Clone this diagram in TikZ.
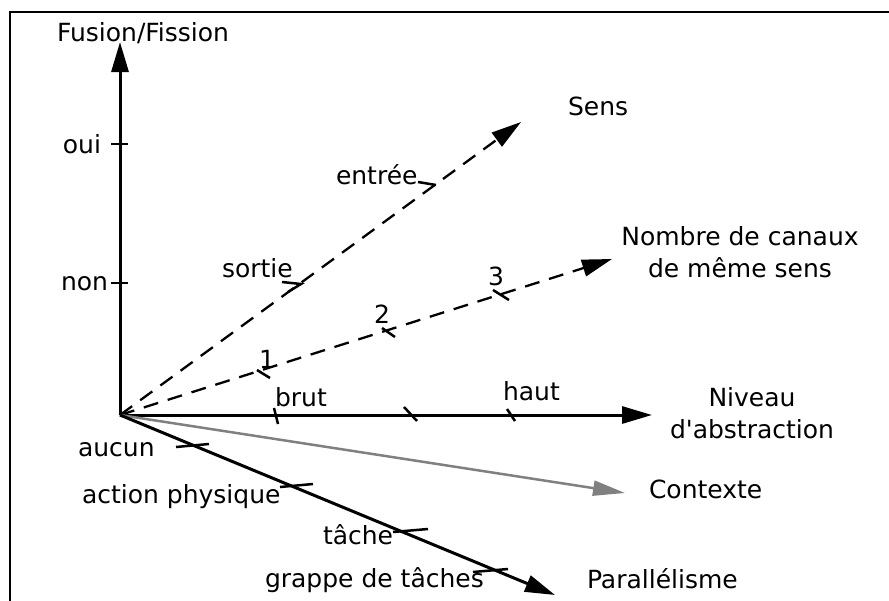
\documentclass[tikz,border=0pt]{standalone}
\usepackage{fontspec}
\newfontfamily\diafont{DejaVu Sans}
\usetikzlibrary{arrows.meta}
\begin{document}
\begin{tikzpicture}[x=1pt,y=-1pt,
  lbl/.style={font=\diafont\fontsize{25}{32}\selectfont, inner sep=0pt, outer sep=0pt},
  axisline/.style={line width=3pt, -{Triangle[length=30pt,width=17pt]}},
  dashaxis/.style={line width=2.3pt, dash pattern=on 15pt off 10pt, -{Triangle[length=30pt,width=17pt]}},
  grayaxis/.style={line width=2.5pt, draw={rgb,255:red,128;green,128;blue,128}, -{Triangle[length=32pt,width=15pt]}},
  tickmark/.style={line width=2.5pt},
  frameline/.style={line width=2.5pt}]
\useasboundingbox (0,0) rectangle (889,600);
% frame
\draw[frameline] (10,605) -- (10,12) -- (895,12);
% origin and axis ends
\coordinate (O) at (120,415);
\coordinate (fusTip) at (120,42);
\coordinate (absTip) at (652,415);
\coordinate (sensTip) at (521,122);
\coordinate (nbTip) at (612,259);
\coordinate (ctxTip) at (625,493);
\coordinate (parTip) at (555,595);
% axes
\draw[axisline] (O) -- (fusTip);
\draw[axisline] (O) -- (absTip);
\draw[dashaxis] (O) -- (sensTip);
\draw[dashaxis] (O) -- (nbTip);
\draw[grayaxis] (O) -- (ctxTip);
\draw[axisline] (O) -- (parTip);
% ticks: Fusion/Fission
\draw[tickmark] (111,144) -- (128,144);
\draw[tickmark] (111,283) -- (128,283);
% ticks: Niveau d'abstraction
\draw[tickmark] (274,408) -- (278,424);
\draw[tickmark] (404,407) -- (417,421);
\draw[tickmark] (507,409) -- (515,421);
% ticks: Sens
\draw[tickmark] (282,282) -- (301,284) -- (288,292);
\draw[tickmark] (418,182) -- (436,185);
% ticks: Nombre de canaux
\draw[tickmark] (257,370) -- (270,378);
\draw[tickmark] (382,328) -- (395,337);
\draw[tickmark] (493,290) -- (509,300);
% ticks: Parallelisme
\draw[tickmark] (176,447) -- (209,444);
\draw[tickmark] (280,487) -- (313,484);
\draw[tickmark] (393,532) -- (428,529);
\draw[tickmark] (473,572) -- (508,569);
% labels
\node[lbl, anchor=base west] (lFus) at (57,41) {Fusion/Fission};
\node[lbl, anchor=base east] (lOui) at (101,153) {oui};
\node[lbl, anchor=base east] (lNon) at (108,290) {non};
\node[lbl, anchor=base west] (lSortie) at (222,277) {sortie};
\node[lbl, anchor=base west] (lEntree) at (336,184) {entrée};
\node[lbl, anchor=base west] (lSens) at (568,115) {Sens};
\node[lbl, anchor=north, align=center] (lNombre) at (740,227) {Nombre de canaux\\de même sens};
\node[lbl, anchor=base] (lUn) at (267,368) {1};
\node[lbl, anchor=base] (lDeux) at (382,323) {2};
\node[lbl, anchor=base] (lTrois) at (496,285) {3};
\node[lbl, anchor=base west] (lBrut) at (275,406) {brut};
\node[lbl, anchor=base west] (lHaut) at (503,400) {haut};
\node[lbl, anchor=north, align=center] (lNiveau) at (752,387) {Niveau\\d'abstraction};
\node[lbl, anchor=base west] (lCtx) at (649,498) {Contexte};
\node[lbl, anchor=base west] (lPar) at (587,588) {Parallélisme};
\node[lbl, anchor=base west] (lAucun) at (78,456) {aucun};
\node[lbl, anchor=base west] (lAction) at (82,503) {action physique};
\node[lbl, anchor=base west] (lTache) at (323,544) {tâche};
\node[lbl, anchor=base west] (lGrappe) at (265,587) {grappe de tâches};
\end{tikzpicture}
\end{document}
